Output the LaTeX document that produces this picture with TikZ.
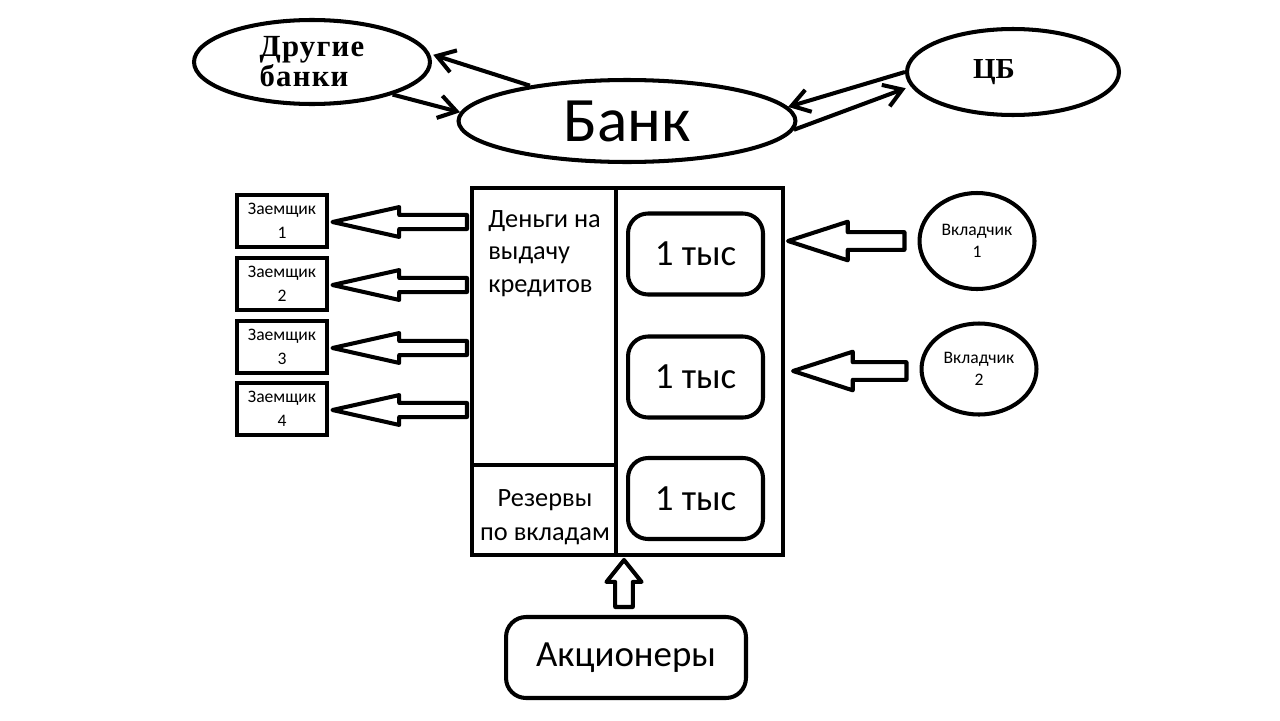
\documentclass[tikz,border=0pt]{standalone}
\usepackage{fontspec}
\setmainfont{Carlito}
\newfontfamily\timesfont{Liberation Serif}
\newfontfamily\timeswide{Liberation Serif}[LetterSpace=4]
\usetikzlibrary{shapes.geometric,arrows.meta,calc}

\tikzset{
  ln/.style={line width=2.3pt},
  oval/.style={ln, draw, ellipse, inner sep=0pt, align=center},
  holder/.style={ln, draw, rectangle, inner sep=0pt},
  borrower/.style={line width=2.8pt, draw, rectangle, minimum width=1.8cm, minimum height=1.04cm,
    inner sep=0pt, align=center, font=\fontsize{10}{13.5}\selectfont},
  saver/.style={oval, minimum width=2.3cm, font=\fontsize{10}{12.5}\selectfont},
  thousand/.style={ln, draw, rounded corners=0.4cm, minimum width=2.7cm, minimum height=1.62cm,
    font=\fontsize{21}{24}\selectfont},
  arr/.style={ln, -{Straight Barb[length=10pt,width=13pt]}},
  fat/.style={ln, line join=round},
}

% hollow block arrow: tail, tip, shaft half width, head half width, head length
\newcommand{\blockarrow}[5]{%
  \coordinate (fa-b) at ($(#2)!#5!(#1)$);
  \draw[fat] (#2) -- ($(fa-b)!#4!90:(#2)$) -- ($(fa-b)!#3!90:(#2)$) -- ($(#1)!#3!90:(#2)$)
    -- ($(#1)!#3!-90:(#2)$) -- ($(fa-b)!#3!-90:(#2)$) -- ($(fa-b)!#4!-90:(#2)$) -- cycle;%
}

\begin{document}
\begin{tikzpicture}[x=0.02cm, y=-0.02cm]
  \useasboundingbox (0,0) rectangle (1280,720);

  % Top ellipses
  \node[oval, minimum width=4.72cm, minimum height=1.68cm, align=left,
    font=\timeswide\bfseries\fontsize{17.5}{17}\selectfont]
    (oth) at (312,62) {Другие\\банки};
  \node[oval, minimum width=6.74cm, minimum height=1.64cm, font=\fontsize{36}{40}\selectfont]
    (bank) at (627,121) {Банк};
  \node[oval, minimum width=4.24cm, minimum height=1.72cm] (cb) at (1013,72) {};
  \node[font=\timesfont\bfseries\fontsize{16.5}{17}\selectfont] (cbtxt) at (994,72) {ЦБ};

  % Arrows between banks
  \draw[arr, shorten >=2pt] (bank.160) -- (oth.4);
  \draw[arr] (oth.-22) -- (bank.177);
  \draw[arr] (cb.180) -- (bank.5);
  \draw[arr, shorten >=3pt] (bank.-3) -- (cb.188);

  % Bank balance
  \node[holder, minimum width=2.88cm, minimum height=5.54cm] (loan) at (544,326.5) {};
  \node[holder, minimum width=2.88cm, minimum height=1.8cm] (res) at (544,510) {};
  \node[holder, minimum width=3.34cm, minimum height=7.34cm] (dep) at (699.5,371.5) {};
  \node[anchor=north west, inner sep=0pt, align=left, font=\fontsize{15}{18.5}\selectfont]
    (loantxt) at (488,210) {Деньги на\\выдачу\\кредитов};
  \node[inner sep=0pt, align=center, font=\fontsize{15}{19.3}\selectfont]
    (restxt) at (545,517) {Резервы\\по вкладам};

  \node[thousand] (k1) at (695.5,254) {1 тыс};
  \node[thousand] (k2) at (695.5,377) {1 тыс};
  \node[thousand] (k3) at (695.5,498.5) {1 тыс};

  % Borrowers
  \node[borrower] (b1) at (282,221) {Заемщик\\1};
  \node[borrower] (b2) at (282,284) {Заемщик\\2};
  \node[borrower] (b3) at (282,347) {Заемщик\\3};
  \node[borrower] (b4) at (282,409) {Заемщик\\4};

  \coordinate (bt1) at ($(b1.east)+(3,1)$);
  \coordinate (bs1) at ($(loan.west |- b1)+(-3,1)$);
  \coordinate (bt2) at ($(b2.east)+(3,1)$);
  \coordinate (bs2) at ($(loan.west |- b2)+(-3,1)$);
  \coordinate (bt3) at ($(b3.east)+(3,1)$);
  \coordinate (bs3) at ($(loan.west |- b3)+(-3,1)$);
  \coordinate (bt4) at ($(b4.east)+(3,1)$);
  \coordinate (bs4) at ($(loan.west |- b4)+(-3,1)$);
  \blockarrow{bs1}{bt1}{4pt}{8.5pt}{38pt}
  \blockarrow{bs2}{bt2}{4pt}{8.5pt}{38pt}
  \blockarrow{bs3}{bt3}{4pt}{8.5pt}{38pt}
  \blockarrow{bs4}{bt4}{4pt}{8.5pt}{38pt}

  % Depositors
  \node[saver, minimum height=1.92cm] (v1) at (977,241) {Вкладчик\\1};
  \node[saver, minimum height=1.82cm] (v2) at (979,369) {Вкладчик\\2};

  \coordinate (vt1) at ($(dep.east |- v1)+(3,0)$);
  \coordinate (vs1) at ($(v1.west)+(-13,0)$);
  \coordinate (vt2) at ($(dep.east |- v2)+(8,2)$);
  \coordinate (vs2) at ($(v2.west)+(-13,2)$);
  \blockarrow{vs1}{vt1}{5pt}{11pt}{34pt}
  \blockarrow{vs2}{vt2}{5pt}{11pt}{34pt}

  % Shareholders
  \node[ln, draw, rounded corners=0.4cm, minimum width=4.8cm, minimum height=1.62cm,
    font=\fontsize{21}{24}\selectfont] (sh) at (626,657.5) {Акционеры};

  \coordinate (ut) at ($(dep.south -| sh.north)+(-2,3)$);
  \coordinate (us) at ($(sh.north)+(-2,-8)$);
  \blockarrow{us}{ut}{5pt}{10pt}{12.5pt}
\end{tikzpicture}
\end{document}
